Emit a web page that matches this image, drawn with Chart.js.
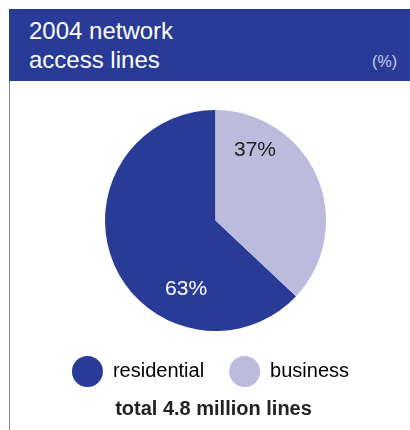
<!DOCTYPE html>
<html>
<head>
<meta charset="utf-8">
<script src="https://cdn.jsdelivr.net/npm/chart.js@4/dist/chart.umd.min.js"></script>
<style>
  html, body { margin: 0; padding: 0; background: #fff; }
  body { width: 410px; height: 430px; overflow: hidden; position: relative; font-family: "Liberation Sans", Arial, sans-serif; }
  #frame { position: absolute; left: 9px; top: 81px; width: 401px; height: 349px; border-left: 1px solid #8c8c8c; }
  #header { position: absolute; left: 9px; top: 9px; width: 401px; height: 72px; background: #283b96; color: #fff; }
  #header .t { position: absolute; left: 20px; font-size: 24px; line-height: 24px; white-space: nowrap; }
  #header .unit { position: absolute; right: 13px; top: 45px; font-size: 16px; line-height: 16px; color: #c9cbe8; }
  #wrap { position: absolute; left: 11px; top: 81px; width: 399px; height: 349px; }
</style>
</head>
<body>
<div id="frame"></div>
<div id="header">
  <div class="t" style="top:10px">2004 network</div>
  <div class="t" style="top:39px">access lines</div>
  <div class="unit">(%)</div>
</div>
<div id="wrap"><canvas id="access-lines"></canvas></div>
<script>
const categories = ['residential', 'business'];
const shares = [63, 37];
const totalLabel = 'total 4.8 million lines';

const colors = ['#283b96', '#bcbbdd'];
const labelColors = ['#ffffff', '#222222'];
// where each % label sits inside its slice (fraction of arc, fraction of radius)
const labelSpots = [[0.308, 0.68], [0.22, 0.73]];

const sliceLabels = {
    id: 'sliceLabels',
    afterDatasetsDraw(chart) {
        const ctx = chart.ctx;
        const meta = chart.getDatasetMeta(0);
        ctx.save();
        ctx.font = '21px "Liberation Sans", Arial, sans-serif';
        ctx.textAlign = 'center';
        ctx.textBaseline = 'middle';
        meta.data.forEach((arc, i) => {
            const p = arc.getProps(['x', 'y', 'startAngle', 'endAngle', 'outerRadius'], true);
            const a = p.startAngle + labelSpots[i][0] * (p.endAngle - p.startAngle);
            const r = labelSpots[i][1] * p.outerRadius;
            ctx.fillStyle = labelColors[i];
            ctx.fillText(shares[i] + '%', p.x + Math.cos(a) * r, p.y + Math.sin(a) * r);
        });
        ctx.restore();
    }
};

// legend and footer sit a little left of the pie in the original
const nudgeBottom = {
    id: 'nudgeBottom',
    afterLayout(chart) {
        if (chart.legend) { chart.legend.left -= 5; chart.legend.right -= 5; }
        if (chart.titleBlock) { chart.titleBlock.left -= 2; chart.titleBlock.right -= 2; }
    }
};

const total = shares.reduce((s, v) => s + v, 0);

new Chart(document.getElementById('access-lines'), {
    type: 'pie',
    data: {
        labels: categories,
        datasets: [{
            data: shares,
            backgroundColor: colors,
            borderWidth: 0,
        }]
    },
    options: {
        responsive: true,
        maintainAspectRatio: false,
        animation: false,
        // residential starts where business ends, business starts at 12 o'clock
        rotation: shares[1] / total * 360,
        layout: { padding: { top: 29, left: 10, right: 0, bottom: 0 } },
        plugins: {
            tooltip: { enabled: false },
            legend: {
                position: 'bottom',
                labels: {
                    boxWidth: 31,
                    boxHeight: 31,
                    padding: 25,
                    color: '#3c3c3c',
                    font: { size: 20, family: '"Liberation Sans", Arial, sans-serif' },
                    generateLabels: () => categories.map((text, i) => ({
                        text: text,
                        fillStyle: colors[i],
                        strokeStyle: colors[i],
                        lineWidth: 0,
                        borderRadius: 15.5,
                        hidden: false,
                        index: i,
                    })),
                },
            },
            title: {
                display: true,
                position: 'bottom',
                text: totalLabel,
                color: '#222',
                font: { size: 20, weight: 'bold', family: '"Liberation Sans", Arial, sans-serif', lineHeight: 1 },
                padding: { top: 2, bottom: 11 },
            },
        },
    },
    plugins: [sliceLabels, nudgeBottom],
});
</script>
</body>
</html>
